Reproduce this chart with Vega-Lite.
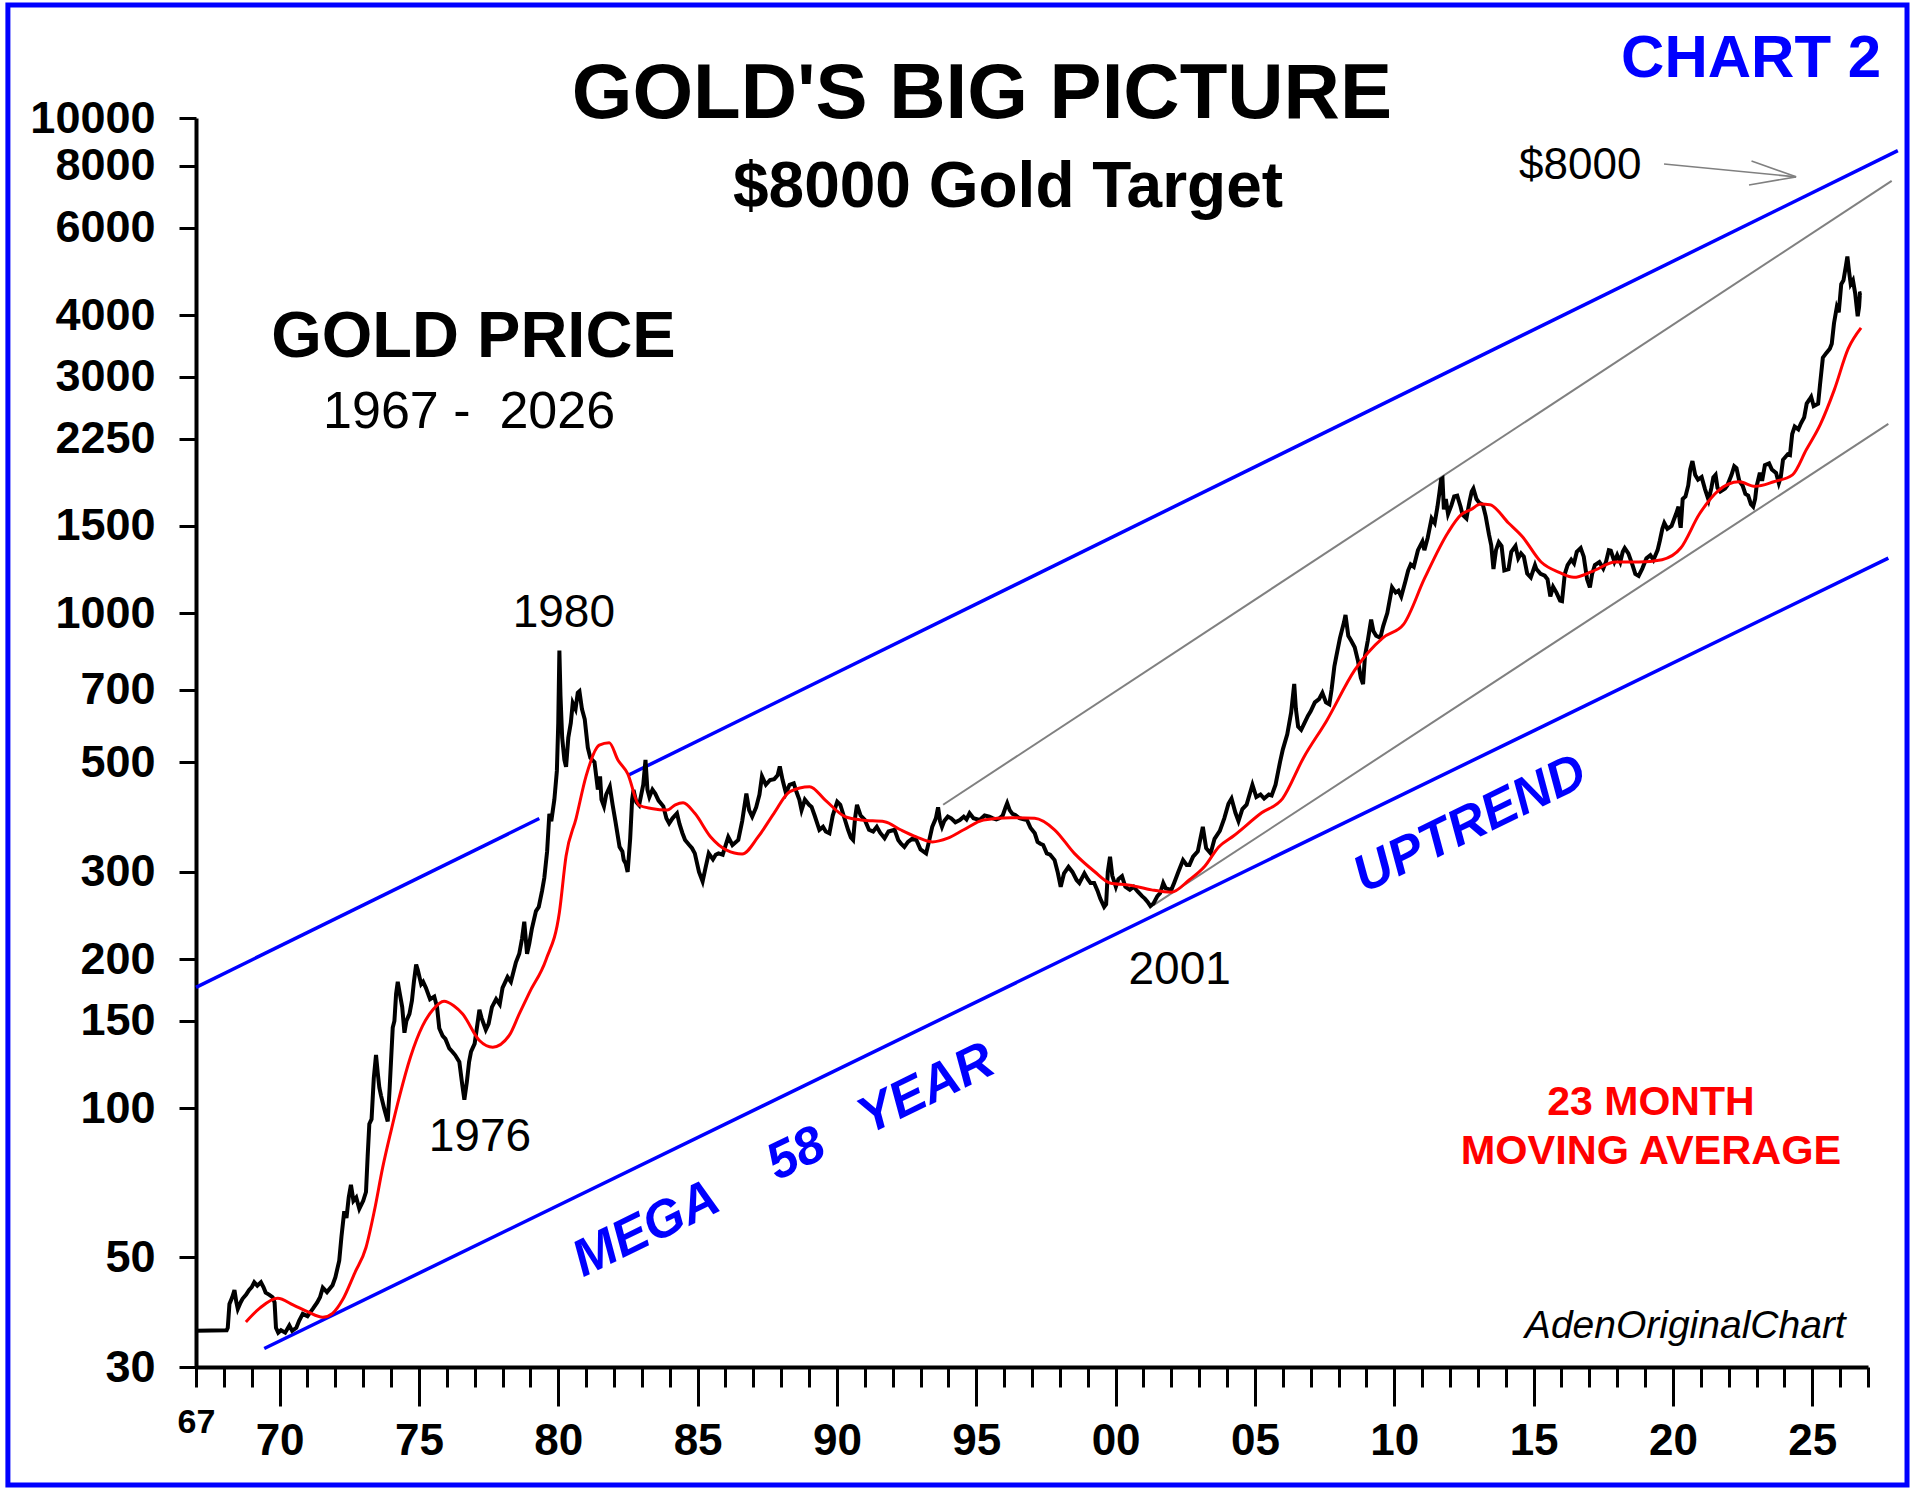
{
  "$schema": "https://vega.github.io/schema/vega-lite/v6.json",
  "autosize": "none",
  "width": 1672,
  "height": 1249,
  "padding": {"left": 196, "top": 118, "right": 52, "bottom": 121},
  "background": "white",
  "config": {"view": {"stroke": null}, "font": "Liberation Sans"},
  "data": {"values": [{"anchor": 1}]},
  "layer": [
    {
      "mark": {"type": "rect", "fillOpacity": 0, "stroke": "#0000ff", "strokeWidth": 5, "clip": false},
      "encoding": {
        "x": {"datum": 1960.25, "type": "quantitative", "title": null},
        "x2": {"datum": 2028.4},
        "y": {"datum": 16920, "type": "quantitative", "title": null},
        "y2": {"datum": 17.33}
      }
    },
    {
      "data": {"values": [
        {"s":"a","t":1967.0,"p":175.4},{"s":"a","t":1979.32,"p":384.6},
        {"s":"b","t":1982.49,"p":469.9},{"s":"b","t":2028.07,"p":8590},
        {"s":"c","t":1969.45,"p":32.7},{"s":"c","t":2027.73,"p":1291}
      ]},
      "mark": {"type": "line", "color": "#0000ff", "strokeWidth": 3.5, "clip": false},
      "encoding": {
        "x": {"field": "t", "type": "quantitative", "title": null},
        "y": {"field": "p", "type": "quantitative", "title": null},
        "detail": {"field": "s"}
      }
    },
    {
      "data": {"values": [
        {"s":"a","t":1993.81,"p":410},{"s":"a","t":2027.85,"p":7464},
        {"s":"b","t":2001.36,"p":257},{"s":"b","t":2027.73,"p":2410}
      ]},
      "mark": {"type": "line", "color": "#808080", "strokeWidth": 2, "clip": false},
      "encoding": {
        "x": {"field": "t", "type": "quantitative", "title": null},
        "y": {"field": "p", "type": "quantitative", "title": null},
        "detail": {"field": "s"}
      }
    },
    {
      "data": {"values": [
        {"s":"shaft","t":2019.68,"p":8075},{"s":"shaft","t":2024.42,"p":7605},
        {"s":"h1","t":2022.82,"p":8190},{"s":"h1","t":2024.42,"p":7605},
        {"s":"h2","t":2022.73,"p":7325},{"s":"h2","t":2024.42,"p":7605}
      ]},
      "mark": {"type": "line", "color": "#808080", "strokeWidth": 1.6, "clip": false},
      "encoding": {
        "x": {"field": "t", "type": "quantitative", "title": null},
        "y": {"field": "p", "type": "quantitative", "title": null},
        "detail": {"field": "s"}
      }
    },
    {
      "data": {"values": [
        {"t":1967.0,"p":35.5},{"t":1968.1,"p":35.6},{"t":1968.14,"p":36},{"t":1968.2,"p":40.2},{"t":1968.3,"p":41.5},{"t":1968.38,"p":42.9},{"t":1968.45,"p":40.5},{"t":1968.5,"p":39.3},{"t":1968.6,"p":40.5},{"t":1968.67,"p":41.2},{"t":1968.8,"p":42.0},{"t":1968.9,"p":42.9},
        {"t":1969.0,"p":43.5},{"t":1969.09,"p":44.5},{"t":1969.2,"p":43.8},{"t":1969.33,"p":44.5},{"t":1969.42,"p":43.5},{"t":1969.5,"p":42.4},{"t":1969.62,"p":42.0},{"t":1969.75,"p":41.5},{"t":1969.82,"p":40.5},{"t":1969.87,"p":36.0},{"t":1969.95,"p":35.2},
        {"t":1970.05,"p":35.6},{"t":1970.2,"p":35.2},{"t":1970.35,"p":36.4},{"t":1970.45,"p":35.5},{"t":1970.6,"p":36.0},{"t":1970.7,"p":37.2},{"t":1970.83,"p":38.4},
        {"t":1971.0,"p":38.0},{"t":1971.19,"p":39.3},{"t":1971.35,"p":40.5},{"t":1971.45,"p":41.5},{"t":1971.55,"p":43.4},{"t":1971.7,"p":42.5},{"t":1971.9,"p":43.9},
        {"t":1972.0,"p":45.5},{"t":1972.14,"p":49.2},{"t":1972.22,"p":55},{"t":1972.32,"p":61.9},{"t":1972.4,"p":60},{"t":1972.48,"p":66},{"t":1972.56,"p":70.0},{"t":1972.65,"p":65},{"t":1972.75,"p":66},{"t":1972.86,"p":62.6},
        {"t":1973.0,"p":65},{"t":1973.1,"p":67.7},{"t":1973.16,"p":80},{"t":1973.22,"p":92.9},{"t":1973.3,"p":95},{"t":1973.38,"p":115},{"t":1973.46,"p":128},{"t":1973.52,"p":118},{"t":1973.58,"p":110},{"t":1973.64,"p":106},{"t":1973.75,"p":100},{"t":1973.88,"p":94},{"t":1973.95,"p":110},
        {"t":1974.06,"p":145.5},{"t":1974.12,"p":150},{"t":1974.18,"p":170},{"t":1974.24,"p":180},{"t":1974.3,"p":172},{"t":1974.4,"p":160},{"t":1974.48,"p":142},{"t":1974.55,"p":150},{"t":1974.66,"p":155},{"t":1974.75,"p":165},{"t":1974.82,"p":180},{"t":1974.9,"p":195},{"t":1974.96,"p":190},
        {"t":1975.08,"p":178},{"t":1975.15,"p":180},{"t":1975.25,"p":175},{"t":1975.4,"p":166},{"t":1975.55,"p":168},{"t":1975.65,"p":160},{"t":1975.73,"p":145},{"t":1975.85,"p":140},{"t":1975.95,"p":138},
        {"t":1976.09,"p":132},{"t":1976.2,"p":130},{"t":1976.3,"p":128},{"t":1976.45,"p":124},{"t":1976.55,"p":112},{"t":1976.63,"p":104},{"t":1976.72,"p":113},{"t":1976.8,"p":124},{"t":1976.87,"p":130},
        {"t":1977.0,"p":135},{"t":1977.1,"p":148},{"t":1977.17,"p":158},{"t":1977.25,"p":152},{"t":1977.4,"p":144},{"t":1977.5,"p":148},{"t":1977.62,"p":160},{"t":1977.77,"p":166},{"t":1977.9,"p":162},
        {"t":1978.0,"p":175},{"t":1978.18,"p":184},{"t":1978.3,"p":180},{"t":1978.48,"p":197},{"t":1978.6,"p":205},{"t":1978.7,"p":220},{"t":1978.78,"p":238},{"t":1978.88,"p":205},{"t":1978.96,"p":215},
        {"t":1979.05,"p":230},{"t":1979.2,"p":250},{"t":1979.3,"p":255},{"t":1979.42,"p":275},{"t":1979.5,"p":292},{"t":1979.6,"p":330},{"t":1979.68,"p":393},{"t":1979.75,"p":380},{"t":1979.86,"p":420},{"t":1979.95,"p":480},
        {"t":1980.0,"p":600},{"t":1980.04,"p":840},{"t":1980.08,"p":680},{"t":1980.14,"p":560},{"t":1980.22,"p":505},{"t":1980.28,"p":489},{"t":1980.36,"p":560},{"t":1980.45,"p":600},{"t":1980.52,"p":658},{"t":1980.62,"p":640},{"t":1980.7,"p":690},{"t":1980.76,"p":695},{"t":1980.85,"p":640},{"t":1980.95,"p":610},
        {"t":1981.06,"p":535},{"t":1981.15,"p":510},{"t":1981.3,"p":500},{"t":1981.42,"p":440},{"t":1981.5,"p":468},{"t":1981.55,"p":420},{"t":1981.64,"p":407},{"t":1981.72,"p":430},{"t":1981.85,"p":446},{"t":1981.95,"p":410},
        {"t":1982.05,"p":380},{"t":1982.2,"p":337},{"t":1982.3,"p":330},{"t":1982.35,"p":317},{"t":1982.42,"p":312},{"t":1982.49,"p":300},{"t":1982.58,"p":350},{"t":1982.65,"p":420},{"t":1982.7,"p":439},{"t":1982.8,"p":415},{"t":1982.9,"p":409},
        {"t":1983.05,"p":450},{"t":1983.13,"p":505},{"t":1983.2,"p":440},{"t":1983.27,"p":425},{"t":1983.38,"p":440},{"t":1983.48,"p":432},{"t":1983.6,"p":418},{"t":1983.77,"p":407},{"t":1983.88,"p":385},{"t":1983.98,"p":376},
        {"t":1984.1,"p":385},{"t":1984.26,"p":394},{"t":1984.35,"p":375},{"t":1984.45,"p":360},{"t":1984.55,"p":348},{"t":1984.7,"p":340},{"t":1984.8,"p":335},{"t":1984.9,"p":327},
        {"t":1985.05,"p":300},{"t":1985.18,"p":287},{"t":1985.28,"p":305},{"t":1985.4,"p":327},{"t":1985.55,"p":318},{"t":1985.65,"p":325},{"t":1985.75,"p":327},{"t":1985.9,"p":325},
        {"t":1986.1,"p":353},{"t":1986.25,"p":340},{"t":1986.46,"p":348},{"t":1986.6,"p":380},{"t":1986.75,"p":432},{"t":1986.85,"p":400},{"t":1986.96,"p":388},
        {"t":1987.1,"p":405},{"t":1987.22,"p":430},{"t":1987.31,"p":468},{"t":1987.45,"p":450},{"t":1987.6,"p":460},{"t":1987.75,"p":462},{"t":1987.87,"p":470},{"t":1987.95,"p":490},
        {"t":1988.05,"p":460},{"t":1988.17,"p":433},{"t":1988.3,"p":450},{"t":1988.45,"p":453},{"t":1988.55,"p":435},{"t":1988.65,"p":420},{"t":1988.73,"p":400},{"t":1988.85,"p":420},
        {"t":1989.0,"p":410},{"t":1989.09,"p":406},{"t":1989.2,"p":390},{"t":1989.37,"p":365},{"t":1989.5,"p":370},{"t":1989.6,"p":362},{"t":1989.73,"p":359},{"t":1989.85,"p":390},
        {"t":1990.01,"p":416},{"t":1990.12,"p":410},{"t":1990.29,"p":382},{"t":1990.4,"p":365},{"t":1990.5,"p":352},{"t":1990.58,"p":348},{"t":1990.65,"p":385},{"t":1990.72,"p":410},{"t":1990.85,"p":390},
        {"t":1991.0,"p":382},{"t":1991.15,"p":365},{"t":1991.3,"p":362},{"t":1991.43,"p":370},{"t":1991.55,"p":360},{"t":1991.71,"p":351},{"t":1991.85,"p":362},
        {"t":1992.07,"p":365},{"t":1992.2,"p":348},{"t":1992.3,"p":342},{"t":1992.42,"p":337},{"t":1992.55,"p":345},{"t":1992.7,"p":350},{"t":1992.85,"p":348},
        {"t":1993.0,"p":333},{"t":1993.2,"p":327},{"t":1993.3,"p":345},{"t":1993.42,"p":370},{"t":1993.55,"p":385},{"t":1993.63,"p":405},{"t":1993.7,"p":380},{"t":1993.77,"p":370},{"t":1993.85,"p":380},{"t":1993.98,"p":388},
        {"t":1994.1,"p":385},{"t":1994.25,"p":378},{"t":1994.41,"p":382},{"t":1994.55,"p":388},{"t":1994.65,"p":383},{"t":1994.76,"p":394},{"t":1994.9,"p":385},
        {"t":1995.12,"p":382},{"t":1995.3,"p":390},{"t":1995.47,"p":388},{"t":1995.6,"p":385},{"t":1995.72,"p":383},{"t":1995.83,"p":385},{"t":1995.95,"p":390},
        {"t":1996.05,"p":405},{"t":1996.11,"p":413},{"t":1996.2,"p":400},{"t":1996.3,"p":393},{"t":1996.4,"p":391},{"t":1996.55,"p":385},{"t":1996.7,"p":383},{"t":1996.82,"p":382},{"t":1996.95,"p":368},
        {"t":1997.1,"p":359},{"t":1997.2,"p":345},{"t":1997.3,"p":342},{"t":1997.4,"p":340},{"t":1997.53,"p":327},{"t":1997.65,"p":325},{"t":1997.81,"p":317},{"t":1997.92,"p":300},
        {"t":1998.03,"p":280},{"t":1998.15,"p":298},{"t":1998.31,"p":307},{"t":1998.45,"p":300},{"t":1998.6,"p":289},{"t":1998.7,"p":285},{"t":1998.88,"p":298},
        {"t":1999.0,"p":290},{"t":1999.1,"p":285},{"t":1999.23,"p":285},{"t":1999.35,"p":275},{"t":1999.45,"p":265},{"t":1999.59,"p":255},{"t":1999.66,"p":258},{"t":1999.72,"p":300},{"t":1999.8,"p":322},{"t":1999.88,"p":295},
        {"t":2000.01,"p":280},{"t":2000.1,"p":290},{"t":2000.23,"p":294},{"t":2000.35,"p":280},{"t":2000.51,"p":276},{"t":2000.65,"p":280},{"t":2000.79,"p":274},{"t":2000.95,"p":268},
        {"t":2001.05,"p":265},{"t":2001.15,"p":261},{"t":2001.25,"p":256},{"t":2001.36,"p":259},{"t":2001.5,"p":268},{"t":2001.6,"p":272},{"t":2001.71,"p":285},{"t":2001.8,"p":278},
        {"t":2002.0,"p":276},{"t":2002.1,"p":285},{"t":2002.25,"p":300},{"t":2002.42,"p":317},{"t":2002.55,"p":310},{"t":2002.65,"p":310},{"t":2002.78,"p":322},{"t":2002.95,"p":330},
        {"t":2003.13,"p":370},{"t":2003.25,"p":335},{"t":2003.41,"p":327},{"t":2003.55,"p":350},{"t":2003.74,"p":363},{"t":2003.9,"p":385},
        {"t":2004.05,"p":412},{"t":2004.16,"p":422},{"t":2004.3,"p":395},{"t":2004.41,"p":380},{"t":2004.55,"p":402},{"t":2004.7,"p":410},{"t":2004.91,"p":450},
        {"t":2005.05,"p":425},{"t":2005.2,"p":430},{"t":2005.33,"p":422},{"t":2005.5,"p":430},{"t":2005.6,"p":428},{"t":2005.74,"p":450},{"t":2005.9,"p":500},
        {"t":2006.0,"p":530},{"t":2006.16,"p":569},{"t":2006.3,"p":630},{"t":2006.41,"p":719},{"t":2006.47,"p":640},{"t":2006.55,"p":590},{"t":2006.66,"p":581},{"t":2006.78,"p":600},{"t":2006.9,"p":620},
        {"t":2007.0,"p":633},{"t":2007.15,"p":660},{"t":2007.3,"p":670},{"t":2007.42,"p":690},{"t":2007.55,"p":660},{"t":2007.67,"p":654},{"t":2007.75,"p":700},{"t":2007.85,"p":780},{"t":2007.92,"p":818},
        {"t":2008.05,"p":890},{"t":2008.2,"p":960},{"t":2008.25,"p":991},{"t":2008.35,"p":900},{"t":2008.45,"p":880},{"t":2008.58,"p":853},{"t":2008.7,"p":800},{"t":2008.8,"p":740},{"t":2008.88,"p":719},{"t":2008.95,"p":820},
        {"t":2009.05,"p":880},{"t":2009.17,"p":970},{"t":2009.25,"p":920},{"t":2009.35,"p":900},{"t":2009.5,"p":891},{"t":2009.6,"p":940},{"t":2009.75,"p":1000},{"t":2009.92,"p":1127},
        {"t":2010.05,"p":1100},{"t":2010.15,"p":1110},{"t":2010.25,"p":1080},{"t":2010.4,"p":1160},{"t":2010.5,"p":1220},{"t":2010.59,"p":1254},{"t":2010.7,"p":1240},{"t":2010.85,"p":1340},
        {"t":2011.01,"p":1395},{"t":2011.08,"p":1340},{"t":2011.2,"p":1420},{"t":2011.34,"p":1553},{"t":2011.45,"p":1520},{"t":2011.55,"p":1640},{"t":2011.62,"p":1750},{"t":2011.68,"p":1862},{"t":2011.73,"p":1870},{"t":2011.78,"p":1620},{"t":2011.85,"p":1700},{"t":2011.93,"p":1585},
        {"t":2012.05,"p":1650},{"t":2012.15,"p":1720},{"t":2012.26,"p":1727},{"t":2012.38,"p":1640},{"t":2012.45,"p":1580},{"t":2012.59,"p":1553},{"t":2012.7,"p":1680},{"t":2012.78,"p":1760},{"t":2012.84,"p":1784},{"t":2012.95,"p":1700},
        {"t":2013.05,"p":1670},{"t":2013.18,"p":1655},{"t":2013.28,"p":1570},{"t":2013.4,"p":1440},{"t":2013.48,"p":1370},{"t":2013.56,"p":1227},{"t":2013.65,"p":1340},{"t":2013.75,"p":1390},{"t":2013.85,"p":1366},{"t":2013.95,"p":1220},
        {"t":2014.1,"p":1227},{"t":2014.2,"p":1330},{"t":2014.35,"p":1366},{"t":2014.45,"p":1290},{"t":2014.55,"p":1320},{"t":2014.65,"p":1300},{"t":2014.77,"p":1202},{"t":2014.9,"p":1180},
        {"t":2015.05,"p":1250},{"t":2015.1,"p":1227},{"t":2015.25,"p":1200},{"t":2015.4,"p":1190},{"t":2015.5,"p":1170},{"t":2015.6,"p":1080},{"t":2015.7,"p":1130},{"t":2015.82,"p":1100},{"t":2015.95,"p":1060},
        {"t":2016.02,"p":1057},{"t":2016.12,"p":1200},{"t":2016.22,"p":1250},{"t":2016.35,"p":1282},{"t":2016.45,"p":1260},{"t":2016.55,"p":1330},{"t":2016.69,"p":1353},{"t":2016.8,"p":1300},{"t":2016.92,"p":1170},
        {"t":2017.02,"p":1127},{"t":2017.1,"p":1200},{"t":2017.2,"p":1250},{"t":2017.36,"p":1268},{"t":2017.5,"p":1230},{"t":2017.6,"p":1270},{"t":2017.7,"p":1340},{"t":2017.77,"p":1337},{"t":2017.9,"p":1270},
        {"t":2018.0,"p":1310},{"t":2018.11,"p":1268},{"t":2018.2,"p":1330},{"t":2018.27,"p":1353},{"t":2018.4,"p":1320},{"t":2018.55,"p":1250},{"t":2018.65,"p":1200},{"t":2018.77,"p":1189},{"t":2018.9,"p":1230},
        {"t":2019.05,"p":1290},{"t":2019.19,"p":1309},{"t":2019.3,"p":1280},{"t":2019.45,"p":1340},{"t":2019.53,"p":1400},{"t":2019.62,"p":1480},{"t":2019.69,"p":1520},{"t":2019.8,"p":1480},{"t":2019.95,"p":1500},
        {"t":2020.11,"p":1585},{"t":2020.2,"p":1640},{"t":2020.25,"p":1520},{"t":2020.28,"p":1487},{"t":2020.35,"p":1700},{"t":2020.45,"p":1720},{"t":2020.55,"p":1810},{"t":2020.62,"p":1950},{"t":2020.7,"p":2028},{"t":2020.8,"p":1900},{"t":2020.9,"p":1860},
        {"t":2021.03,"p":1882},{"t":2021.15,"p":1780},{"t":2021.28,"p":1692},{"t":2021.38,"p":1790},{"t":2021.45,"p":1880},{"t":2021.53,"p":1902},{"t":2021.6,"p":1790},{"t":2021.7,"p":1760},{"t":2021.87,"p":1784},{"t":2021.95,"p":1810},
        {"t":2022.1,"p":1900},{"t":2022.2,"p":1980},{"t":2022.28,"p":1963},{"t":2022.38,"p":1850},{"t":2022.5,"p":1810},{"t":2022.6,"p":1740},{"t":2022.7,"p":1727},{"t":2022.8,"p":1660},{"t":2022.88,"p":1641},{"t":2022.95,"p":1700},
        {"t":2023.0,"p":1800},{"t":2023.12,"p":1922},{"t":2023.2,"p":1850},{"t":2023.3,"p":1990},{"t":2023.45,"p":2006},{"t":2023.55,"p":1950},{"t":2023.7,"p":1920},{"t":2023.8,"p":1830},{"t":2023.87,"p":1882},{"t":2023.95,"p":2040},
        {"t":2024.12,"p":2093},{"t":2024.2,"p":2086},{"t":2024.28,"p":2300},{"t":2024.37,"p":2381},{"t":2024.5,"p":2350},{"t":2024.6,"p":2420},{"t":2024.71,"p":2485},{"t":2024.8,"p":2650},{"t":2024.9,"p":2700},{"t":2024.96,"p":2734},
        {"t":2025.05,"p":2620},{"t":2025.21,"p":2649},{"t":2025.28,"p":2900},{"t":2025.38,"p":3280},{"t":2025.5,"p":3350},{"t":2025.63,"p":3420},{"t":2025.7,"p":3500},{"t":2025.78,"p":3850},{"t":2025.88,"p":4148},{"t":2025.95,"p":4050},
        {"t":2026.04,"p":4617},{"t":2026.12,"p":4700},{"t":2026.2,"p":5000},{"t":2026.26,"p":5250},{"t":2026.32,"p":4900},{"t":2026.38,"p":4617},{"t":2026.46,"p":4700},{"t":2026.54,"p":4424},{"t":2026.63,"p":3976},{"t":2026.68,"p":4150},{"t":2026.71,"p":4424},{"t":2026.77,"p":4430}
      ]},
      "mark": {"type": "line", "color": "black", "strokeWidth": 4, "clip": false},
      "encoding": {
        "x": {
          "field": "t", "type": "quantitative", "title": null,
          "scale": {"domain": [1967, 2027], "nice": false, "zero": false},
          "axis": {
            "values": [1967,1968,1969,1970,1971,1972,1973,1974,1975,1976,1977,1978,1979,1980,1981,1982,1983,1984,1985,1986,1987,1988,1989,1990,1991,1992,1993,1994,1995,1996,1997,1998,1999,2000,2001,2002,2003,2004,2005,2006,2007,2008,2009,2010,2011,2012,2013,2014,2015,2016,2017,2018,2019,2020,2021,2022,2023,2024,2025,2026,2027],
            "tickCount": 200,
            "labelExpr": "datum.value === 1967 ? '67' : (datum.value % 5 === 0 ? slice(format(datum.value, 'd'), 2) : '')",
            "grid": false,
            "domainColor": "black", "domainWidth": 4,
            "tickColor": "black", "tickWidth": 3,
            "tickSize": {"expr": "datum.value % 5 === 0 ? 39 : 20"},
            "labelFontSize": {"condition": {"test": "datum.value === 1967", "value": 34}, "value": 44},
            "labelPadding": {"expr": "datum.value === 1967 ? 18 : 13"},
            "labelFont": "Liberation Sans", "labelFontWeight": "bold", "labelColor": "black",
            "labelFlush": false, "labelOverlap": false, "labelBound": false
          }
        },
        "y": {
          "field": "p", "type": "quantitative", "title": null,
          "scale": {"type": "log", "domain": [30, 10000], "nice": false, "zero": false},
          "axis": {
            "values": [30,50,100,150,200,300,500,700,1000,1500,2250,3000,4000,6000,8000,10000],
            "tickCount": 100,
            "format": "d",
            "grid": false,
            "domainColor": "black", "domainWidth": 4,
            "tickColor": "black", "tickWidth": 3, "tickSize": 17,
            "labelPadding": 24, "labelFontSize": 45,
            "labelFont": "Liberation Sans", "labelFontWeight": "bold", "labelColor": "black",
            "labelFlush": false, "labelOverlap": false, "labelBound": false
          }
        }
      }
    },
    {
      "data": {"values": [
        {"t":1968.79,"p":37.0},{"t":1969.3,"p":39.5},{"t":1969.93,"p":41.3},{"t":1970.5,"p":40.0},{"t":1971.0,"p":38.8},{"t":1971.55,"p":37.8},{"t":1971.9,"p":38.5},{"t":1972.26,"p":41.0},{"t":1972.7,"p":46.5},
        {"t":1973.1,"p":52.3},{"t":1973.4,"p":62},{"t":1973.7,"p":75.9},{"t":1974.0,"p":90},{"t":1974.3,"p":105.5},{"t":1974.7,"p":127},{"t":1975.13,"p":146.6},{"t":1975.5,"p":158},{"t":1975.9,"p":164.4},
        {"t":1976.25,"p":161},{"t":1976.57,"p":154.9},{"t":1977.17,"p":137},{"t":1977.65,"p":132.8},{"t":1978.24,"p":140.2},{"t":1978.6,"p":155},{"t":1978.96,"p":171},{"t":1979.56,"p":199.5},
        {"t":1980.04,"p":248.5},{"t":1980.28,"p":323},{"t":1980.64,"p":385},{"t":1981.0,"p":469},{"t":1981.47,"p":541},{"t":1981.83,"p":547},{"t":1982.14,"p":505},{"t":1982.49,"p":474},{"t":1982.9,"p":409},
        {"t":1983.34,"p":403},{"t":1983.91,"p":400},{"t":1984.2,"p":410},{"t":1984.48,"p":414},{"t":1984.9,"p":394},{"t":1985.47,"p":353},{"t":1986.04,"p":332},{"t":1986.6,"p":326},{"t":1987.17,"p":353},
        {"t":1987.74,"p":394},{"t":1988.31,"p":436},{"t":1989.02,"p":446},{"t":1989.58,"p":419},{"t":1990.29,"p":388},{"t":1990.86,"p":382},{"t":1991.71,"p":379},{"t":1992.28,"p":365},{"t":1992.85,"p":353},
        {"t":1993.42,"p":345},{"t":1993.98,"p":351},{"t":1994.55,"p":365},{"t":1995.26,"p":382},{"t":1996.25,"p":386},{"t":1997.1,"p":385},{"t":1997.81,"p":365},{"t":1998.52,"p":327},{"t":1999.23,"p":301},
        {"t":1999.8,"p":285},{"t":2000.51,"p":282},{"t":2001.29,"p":276},{"t":2002.0,"p":273},{"t":2002.64,"p":289},{"t":2003.2,"p":308},{"t":2003.7,"p":337},{"t":2004.24,"p":355},{"t":2005.24,"p":395},
        {"t":2005.99,"p":422},{"t":2006.75,"p":511},{"t":2007.58,"p":607},{"t":2008.58,"p":767},{"t":2009.59,"p":891},{"t":2010.34,"p":950},{"t":2011.09,"p":1176},{"t":2011.93,"p":1455},{"t":2012.4,"p":1580},
        {"t":2012.76,"p":1620},{"t":2013.1,"p":1660},{"t":2013.43,"p":1655},{"t":2014.1,"p":1520},{"t":2014.6,"p":1426},{"t":2015.27,"p":1268},{"t":2015.94,"p":1207},{"t":2016.44,"p":1181},{"t":2017.11,"p":1214},
        {"t":2017.94,"p":1268},{"t":2018.77,"p":1268},{"t":2019.61,"p":1282},{"t":2020.28,"p":1353},{"t":2020.95,"p":1585},{"t":2021.62,"p":1766},{"t":2022.37,"p":1842},{"t":2022.95,"p":1803},{"t":2023.62,"p":1842},
        {"t":2024.29,"p":1902},{"t":2024.79,"p":2139},{"t":2025.29,"p":2405},{"t":2025.79,"p":2824},{"t":2026.29,"p":3420},{"t":2026.75,"p":3767}
      ]},
      "mark": {"type": "line", "color": "#ff0000", "strokeWidth": 3, "interpolate": "monotone", "clip": false},
      "encoding": {
        "x": {"field": "t", "type": "quantitative", "title": null},
        "y": {"field": "p", "type": "quantitative", "title": null}
      }
    },
    {
      "mark": {"type": "text", "text": "GOLD'S BIG PICTURE", "fontSize": 78, "fontWeight": "bold", "align": "center", "baseline": "alphabetic", "color": "black"},
      "encoding": {"x": {"datum": 1995.2, "type": "quantitative", "title": null}, "y": {"datum": 10000, "type": "quantitative", "title": null}}
    },
    {
      "mark": {"type": "text", "text": "$8000 Gold Target", "fontSize": 64, "fontWeight": "bold", "align": "center", "baseline": "alphabetic", "color": "black"},
      "encoding": {"x": {"datum": 1996.14, "type": "quantitative", "title": null}, "y": {"datum": 6612, "type": "quantitative", "title": null}}
    },
    {
      "mark": {"type": "text", "text": "CHART 2", "fontSize": 60, "fontWeight": "bold", "align": "right", "baseline": "alphabetic", "color": "#0000ff"},
      "encoding": {"x": {"datum": 2027.47, "type": "quantitative", "title": null}, "y": {"datum": 12100, "type": "quantitative", "title": null}}
    },
    {
      "mark": {"type": "text", "text": "GOLD PRICE", "fontSize": 65, "fontWeight": "bold", "align": "left", "baseline": "alphabetic", "color": "black"},
      "encoding": {"x": {"datum": 1969.7, "type": "quantitative", "title": null}, "y": {"datum": 3290, "type": "quantitative", "title": null}}
    },
    {
      "mark": {"type": "text", "text": "1967 -\u00a0 2026", "fontSize": 52, "align": "left", "baseline": "alphabetic", "color": "black"},
      "encoding": {"x": {"datum": 1971.56, "type": "quantitative", "title": null}, "y": {"datum": 2365, "type": "quantitative", "title": null}}
    },
    {
      "mark": {"type": "text", "text": "1980", "fontSize": 46, "align": "center", "baseline": "alphabetic", "color": "black"},
      "encoding": {"x": {"datum": 1980.2, "type": "quantitative", "title": null}, "y": {"datum": 937, "type": "quantitative", "title": null}}
    },
    {
      "mark": {"type": "text", "text": "1976", "fontSize": 46, "align": "center", "baseline": "alphabetic", "color": "black"},
      "encoding": {"x": {"datum": 1977.19, "type": "quantitative", "title": null}, "y": {"datum": 81.9, "type": "quantitative", "title": null}}
    },
    {
      "mark": {"type": "text", "text": "2001", "fontSize": 46, "align": "center", "baseline": "alphabetic", "color": "black"},
      "encoding": {"x": {"datum": 2002.3, "type": "quantitative", "title": null}, "y": {"datum": 178, "type": "quantitative", "title": null}}
    },
    {
      "mark": {"type": "text", "text": "$8000", "fontSize": 44, "align": "left", "baseline": "alphabetic", "color": "black"},
      "encoding": {"x": {"datum": 2014.48, "type": "quantitative", "title": null}, "y": {"datum": 7531, "type": "quantitative", "title": null}}
    },
    {
      "mark": {"type": "text", "text": "23 MONTH", "fontSize": 41, "fontWeight": "bold", "align": "center", "baseline": "alphabetic", "color": "#ff0000"},
      "encoding": {"x": {"datum": 2019.21, "type": "quantitative", "title": null}, "y": {"datum": 96.9, "type": "quantitative", "title": null}}
    },
    {
      "mark": {"type": "text", "text": "MOVING AVERAGE", "fontSize": 41.5, "fontWeight": "bold", "align": "center", "baseline": "alphabetic", "color": "#ff0000"},
      "encoding": {"x": {"datum": 2019.21, "type": "quantitative", "title": null}, "y": {"datum": 77.1, "type": "quantitative", "title": null}}
    },
    {
      "mark": {"type": "text", "text": "AdenOriginalChart", "fontSize": 39, "fontStyle": "italic", "align": "right", "baseline": "alphabetic", "color": "black"},
      "encoding": {"x": {"datum": 2026.2, "type": "quantitative", "title": null}, "y": {"datum": 34.3, "type": "quantitative", "title": null}}
    },
    {
      "mark": {"type": "text", "text": "MEGA", "fontSize": 52, "fontWeight": "bold", "fontStyle": "italic", "angle": 334, "align": "center", "baseline": "middle", "color": "#0000ff"},
      "encoding": {"x": {"datum": 1983.15, "type": "quantitative", "title": null}, "y": {"datum": 57.0, "type": "quantitative", "title": null}}
    },
    {
      "mark": {"type": "text", "text": "58", "fontSize": 52, "fontWeight": "bold", "fontStyle": "italic", "angle": 334, "align": "center", "baseline": "middle", "color": "#0000ff"},
      "encoding": {"x": {"datum": 1988.53, "type": "quantitative", "title": null}, "y": {"datum": 80.8, "type": "quantitative", "title": null}}
    },
    {
      "mark": {"type": "text", "text": "YEAR", "fontSize": 52, "fontWeight": "bold", "fontStyle": "italic", "angle": 334, "align": "center", "baseline": "middle", "color": "#0000ff"},
      "encoding": {"x": {"datum": 1993.2, "type": "quantitative", "title": null}, "y": {"datum": 109.3, "type": "quantitative", "title": null}}
    },
    {
      "mark": {"type": "text", "text": "UPTREND", "fontSize": 52, "fontWeight": "bold", "fontStyle": "italic", "angle": 334, "align": "center", "baseline": "middle", "color": "#0000ff"},
      "encoding": {"x": {"datum": 2012.72, "type": "quantitative", "title": null}, "y": {"datum": 375, "type": "quantitative", "title": null}}
    }
  ]
}
